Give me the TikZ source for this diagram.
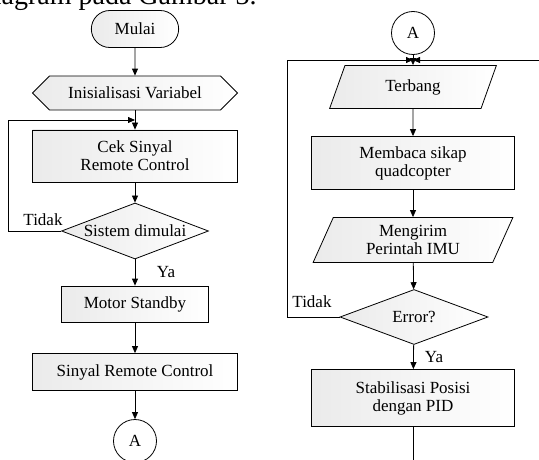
\documentclass[tikz,border=0pt]{standalone}
\usepackage{fontspec}
\setmainfont{Liberation Serif}
\usetikzlibrary{shapes.geometric,shapes.misc,shapes.symbols,arrows.meta}

\begin{document}
\begin{tikzpicture}[x=1pt, y=-1pt, line width=0.8pt,
  font=\fontsize{17}{18}\selectfont,
  shade box/.style={left color=black!8, right color=white},
  terminal/.style={draw, rounded rectangle, shade box, minimum width=94pt, minimum height=37pt},
  prep/.style={draw, signal, signal to=west and east, signal pointer angle=90, shade box,
    minimum width=205pt, minimum height=34pt, inner sep=0pt},
  proc/.style={draw, rectangle, shade box, align=center, inner sep=0pt},
  io/.style={draw, trapezium, trapezium left angle=68, trapezium right angle=112,
    trapezium stretches=true, shade box, align=center, inner sep=0pt},
  decision/.style={draw, diamond, shade box, aspect=2.6, inner sep=0pt,
    minimum width=147pt, minimum height=56pt},
  conn/.style={draw, circle, fill=white, minimum size=43pt, inner sep=0pt},
  arr/.style={-{Triangle[length=7pt,width=6pt]}}]
  \useasboundingbox (0,0) rectangle (539,460);
  \clip (0,0) rectangle (539,460);
  \node[anchor=base east, inner sep=0pt, font=\fontsize{28}{30}\selectfont] (capt) at (257,5) {diagram pada Gambar 3.};

  % kolom kiri
  \node[terminal] (mulai) at (135,29) {Mulai};
  \node[prep] (init) at (135,93) {Inisialisasi Variabel};
  \coordinate (j1) at (135,120);
  \node[proc, minimum width=205pt, minimum height=52pt] (cek) at (135,156) {Cek Sinyal\\Remote Control};
  \node[decision] (sistem) at (135,231) {Sistem dimulai};
  \node[proc, minimum width=147pt, minimum height=36pt] (motor) at (135,304) {Motor Standby};
  \node[proc, minimum width=205pt, minimum height=37pt] (sinyal) at (135,372) {Sinyal Remote Control};
  \node[conn] (a1) at (135,441) {A};

  \draw[arr] (mulai) -- (init);
  \draw (init) -- (j1);
  \draw[arr] (j1) -- (cek);
  \draw[arr] (cek) -- (sistem);
  \draw[arr] (sistem.west) -- ++(-53,0) |- (j1);
  \node (tidak1) at (43,220) {Tidak};
  \draw[arr] (sistem) -- (motor);
  \node (ya1) at (166,272) {Ya};
  \draw[arr] (motor) -- (sinyal);
  \draw[arr] (sinyal) -- (a1);

  % kolom kanan
  \node[conn] (a2) at (413,33) {A};
  \coordinate (j2) at (413,60);
  \coordinate (masuk) at (539,60);
  \node[io, minimum width=167pt, minimum height=43pt] (terbang) at (413,87) {Terbang};
  \node[proc, minimum width=203pt, minimum height=53pt] (baca) at (413,163) {Membaca sikap\\quadcopter};
  \node[io, minimum width=200pt, minimum height=45pt] (kirim) at (413,240) {Mengirim\\Perintah IMU};
  \node[decision, minimum width=148pt, minimum height=55pt] (error) at (414,317) {Error?};
  \node[proc, minimum width=203pt, minimum height=57pt] (stab) at (413,398) {Stabilisasi Posisi\\dengan PID};
  \coordinate (bawah) at (413,460);

  \draw[arr] (a2) -- (terbang);
  \draw[arr] (terbang) -- (baca);
  \draw[arr] (baca) -- (kirim);
  \draw[arr] (kirim) -- (error);
  \draw[arr] (error.west) -- ++(-52,0) |- (j2);
  \draw[arr] (masuk) -- (j2);
  \node (tidak2) at (312,302) {Tidak};
  \draw[arr] (error) -- (stab);
  \node (ya2) at (434,357) {Ya};
  \draw (stab) -- (bawah);
\end{tikzpicture}
\end{document}
